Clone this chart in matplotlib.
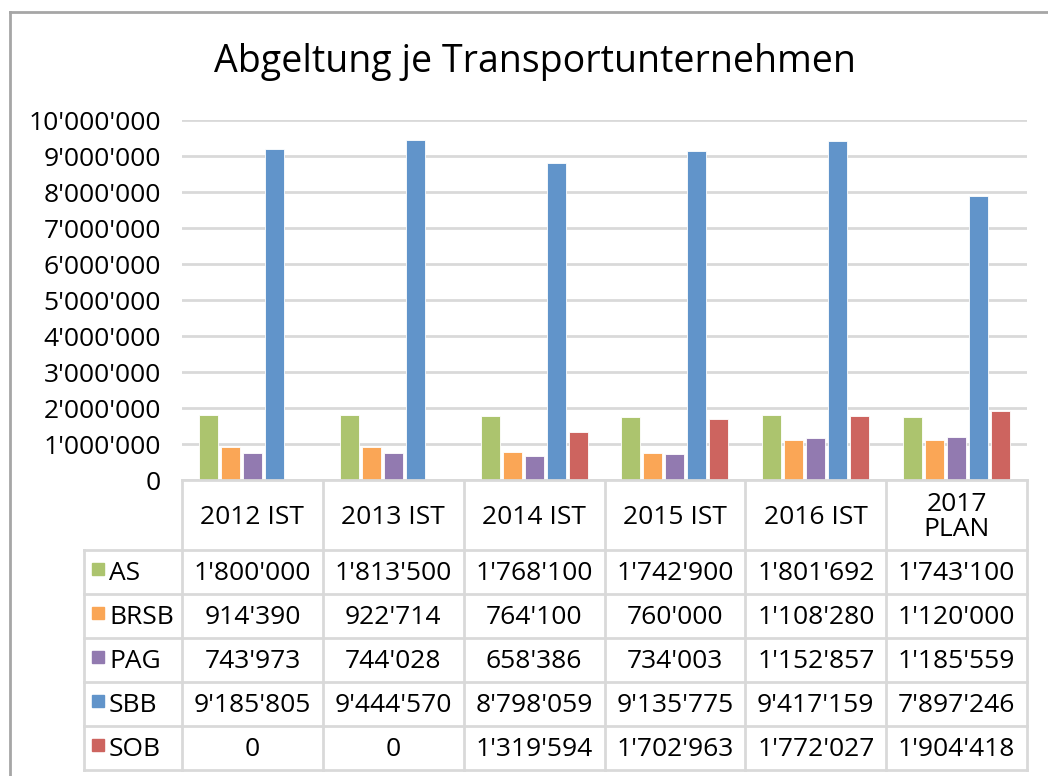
import numpy as np
import matplotlib.pyplot as plt
from matplotlib.lines import Line2D
from matplotlib.patches import Rectangle

plt.rcParams['font.family'] = ['Open Sans', 'DejaVu Sans']

years = ['2012 IST', '2013 IST', '2014 IST', '2015 IST', '2016 IST', '2017\nPLAN']
companies = ['AS', 'BRSB', 'PAG', 'SBB', 'SOB']
as_vals = [1800000, 1813500, 1768100, 1742900, 1801692, 1743100]
brsb_vals = [914390, 922714, 764100, 760000, 1108280, 1120000]
pag_vals = [743973, 744028, 658386, 734003, 1152857, 1185559]
sbb_vals = [9185805, 9444570, 8798059, 9135775, 9417159, 7897246]
sob_vals = [0, 0, 1319594, 1702963, 1772027, 1904418]
series = [as_vals, brsb_vals, pag_vals, sbb_vals, sob_vals]
colors = ['#ACC46E', '#FAA656', '#927AB0', '#6194CA', '#CD645F']
yticks = np.arange(0, 10000001, 1000000)

W, H = 1048, 776
fig = plt.figure(figsize=(W / 100, H / 100), dpi=100)


def fx(px):
    return px / W


def fy(py):
    return 1 - py / H


grid_c = '#D9D9D9'
fs = 19

# outer frame of the chart object
fig.add_artist(Line2D([fx(10), fx(10)], [fy(12), 0], color='#A6A6A6', lw=2))
fig.add_artist(Line2D([fx(10), 1], [fy(12), fy(12)], color='#A6A6A6', lw=2))

fig.text(fx(535), fy(62), 'Abgeltung je Transportunternehmen', ha='center', va='center',
         fontsize=27)

# plot area
left, right, top, bottom = 182, 1027, 120, 480
ax = fig.add_axes([fx(left), fy(bottom), fx(right - left), (bottom - top) / H])
x = np.arange(len(years)) + 0.5
bw = 19 / 141
step = 22 / 141
for i, (vals, c) in enumerate(zip(series, colors)):
    ax.bar(x + (i - 2) * step, vals, width=bw, color=c, edgecolor='white',
           linewidth=0.6, zorder=3)
ax.set_xlim(0, len(years))
ax.set_ylim(0, 10000000)
ax.set_yticks(yticks)
ax.set_yticklabels([f'{v:,}'.replace(',', "'") for v in yticks], fontsize=fs)
ax.tick_params(axis='y', length=0, pad=15)
ax.set_xticks([])
ax.yaxis.grid(True, color=grid_c, lw=2, zorder=0)
for s in ax.spines.values():
    s.set_visible(False)

# data table
col_w = (right - left) / len(years)
cols = [left + k * col_w for k in range(len(years) + 1)]
head_bot = 550
row_h = 44
rows = [head_bot + k * row_h for k in range(len(companies) + 1)]
lab_left = 84


def hline(x0, x1, y):
    fig.add_artist(Line2D([fx(x0), fx(x1)], [fy(y), fy(y)], color=grid_c, lw=2))


def vline(xp, y0, y1):
    fig.add_artist(Line2D([fx(xp), fx(xp)], [fy(y0), fy(y1)], color=grid_c, lw=2))


hline(left, right, bottom)
for r in rows:
    hline(lab_left, right, r)
for c in cols:
    vline(c, bottom, rows[-1])
vline(lab_left, head_bot, rows[-1])

for j, yr in enumerate(years):
    fig.text(fx((cols[j] + cols[j + 1]) / 2), fy((bottom + head_bot) / 2 + 2), yr,
             ha='center', va='center', fontsize=fs, linespacing=0.95)

for i, (name, vals, c) in enumerate(zip(companies, series, colors)):
    yc = rows[i] + row_h / 2
    fig.add_artist(Rectangle((fx(92), fy(yc + 3)), 12 / W, 12 / H, color=c,
                             transform=fig.transFigure))
    fig.text(fx(109), fy(yc + 1), name, ha='left', va='center', fontsize=fs)
    for j, v in enumerate(vals):
        fig.text(fx((cols[j] + cols[j + 1]) / 2), fy(yc + 1), f'{v:,}'.replace(',', "'"),
                 ha='center', va='center', fontsize=fs)

fig.savefig('out.png', dpi=100)
